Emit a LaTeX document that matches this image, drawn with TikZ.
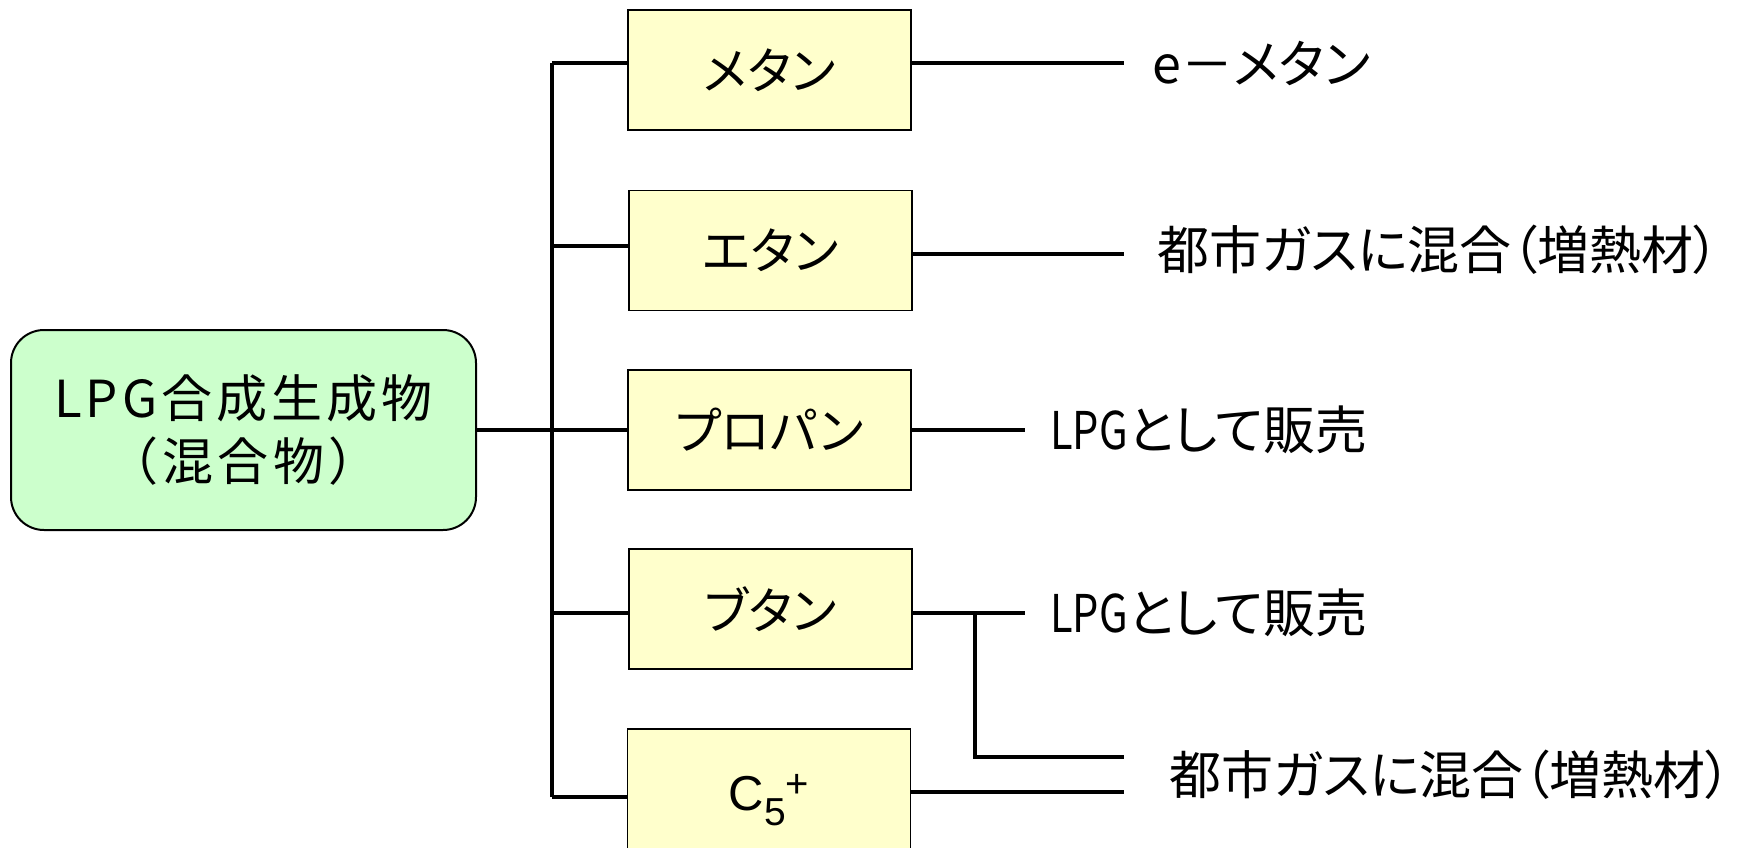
\documentclass[tikz,border=0pt]{standalone}
\usepackage{fontspec}
\setmainfont{Noto Sans CJK JP}[RawFeature=+palt]
\newfontfamily\jpwide{Noto Sans CJK JP}[LetterSpace=8]
\newfontfamily\arialf{Liberation Sans}
\definecolor{gfill}{HTML}{CCFFCC}
\definecolor{yfill}{HTML}{FFFFCC}
\newcommand{\narrowlpg}{\scalebox{0.8}[1]{LPG}}
\begin{document}
\begin{tikzpicture}[x=1pt,y=-1pt,
  conn/.style={line width=3.2pt},
  srcbox/.style={draw=black,line width=2pt,fill=gfill,rounded corners=33pt,minimum width=465pt,minimum height=200pt,inner sep=0pt,align=center,font=\jpwide\fontsize{51}{63}\selectfont},
  yb/.style={draw=black,line width=1.8pt,fill=yfill,minimum width=283pt,minimum height=120pt,inner sep=0pt,font=\fontsize{50}{50}\selectfont},
  res/.style={anchor=west,inner sep=0pt,font=\fontsize{52}{52}\selectfont},
]
\useasboundingbox (0,0) rectangle (1737,847);
\clip (0,0) rectangle (1737,847);
\fill[white] (0,0) rectangle (1737,847);

% source
\node[srcbox] (src) at (243.5,430) {\raisebox{-3pt}{LPG合成生成物}\\\raisebox{-3pt}{（混合物）}};

% product boxes
\node[yb] (me) at (769.5,70) {メタン};
\node[yb] (et) at (770.5,250.5) {エタン};
\node[yb] (pr) at (769.5,430) {プロパン};
\node[yb] (bu) at (770.5,609) {ブタン};
\node[yb] (c5) at (769,789) {\smash{\raisebox{-21pt}{\arialf\fontsize{49}{49}\selectfont C\raisebox{-15pt}{\fontsize{39}{39}\selectfont 5}\raisebox{13pt}{\fontsize{40}{40}\selectfont +}}}};

% trunk
\coordinate (t1) at (552,63);
\coordinate (t2) at (552,246);
\coordinate (t3) at (552,430);
\coordinate (t4) at (552,613);
\coordinate (t5) at (552,797);
\draw[conn] (t1) -- (t5);
\draw[conn] (src.east |- t3) -- (t3);
\draw[conn] (t1) -- (t1 -| me.west);
\draw[conn] (t2) -- (t2 -| et.west);
\draw[conn] (t3) -- (t3 -| pr.west);
\draw[conn] (t4) -- (t4 -| bu.west);
\draw[conn] (t5) -- (t5 -| c5.west);

% results
\node[res] (r1) at (1152,63) {e－メタン};
\node[res] (r2) at (1157,250) {都市ガスに混合（増熱材）};
\node[res] (r3) at (1050,430) {\narrowlpg として販売};
\node[res] (r4) at (1050,613) {\narrowlpg として販売};
\node[res] (r5) at (1169,775) {都市ガスに混合（増熱材）};

\coordinate (e1) at (1124,63);
\coordinate (e2) at (1124,254);
\coordinate (e3) at (1025,430);
\coordinate (e4) at (1025,613);
\coordinate (bj) at (975,613);
\coordinate (e5) at (1124,757);
\coordinate (e6) at (1124,792);

\draw[conn] (e1 -| me.east) -- (e1);
\draw[conn] (e2 -| et.east) -- (e2);
\draw[conn] (e3 -| pr.east) -- (e3);
\draw[conn] (e4 -| bu.east) -- (e4);
\draw[conn] (bj) |- (e5);
\draw[conn] (e6 -| c5.east) -- (e6);
\end{tikzpicture}
\end{document}
